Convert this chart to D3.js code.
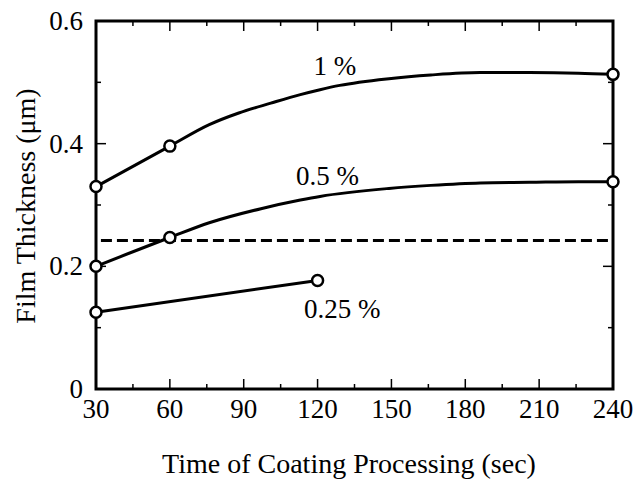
<!DOCTYPE html>
<html>
<head>
<meta charset="utf-8">
<script src="https://cdn.jsdelivr.net/npm/d3@7"></script>
<style>
  body { margin: 0; background: #fff; }
  text { font-family: "Liberation Serif", "Times New Roman", serif; fill: #000; }
</style>
</head>
<body>
<svg id="chart"></svg>
<script>
// Measured points (open circles)
const times1 = [30, 60, 240];
const vals1 = [0.33, 0.396, 0.513];
const times05 = [30, 60, 240];
const vals05 = [0.20, 0.247, 0.338];
const times025 = [30, 120];
const vals025 = [0.125, 0.177];

// Fitted curves as drawn in the figure
const trendTimes1 = [30, 60, 76, 88, 101, 113, 121, 129, 149, 166, 186, 206, 226, 240];
const trendVals1 = [0.33, 0.396, 0.431, 0.450, 0.466, 0.480, 0.488, 0.495, 0.506, 0.512, 0.516, 0.516, 0.515, 0.513];
const trendTimes05 = [30, 60, 76, 97, 113, 121, 149, 166, 186, 206, 226, 240];
const trendVals05 = [0.20, 0.247, 0.271, 0.294, 0.308, 0.314, 0.327, 0.332, 0.336, 0.337, 0.338, 0.338];

const thresholdValue = 0.242;

const xTicks = [30, 60, 90, 120, 150, 180, 210, 240];
const yTicks = [0, 0.2, 0.4, 0.6];
const yTickLabels = ["0", "0.2", "0.4", "0.6"];

const labels = [
    { text: "1 %", t: 127, v: 0.512 },
    { text: "0.5 %", t: 124, v: 0.333 },
    { text: "0.25 %", t: 130, v: 0.116 }
];

const width = 636, height = 481;
const margin = { top: 21, right: 23, bottom: 92, left: 96 };
const innerW = width - margin.left - margin.right;
const innerH = height - margin.top - margin.bottom;

const svg = d3.select("#chart")
    .attr("width", width)
    .attr("height", height);

const g = svg.append("g")
    .attr("transform", `translate(${margin.left},${margin.top})`);

const x = d3.scaleLinear().domain([30, 240]).range([0, innerW]);
const y = d3.scaleLinear().domain([0, 0.6]).range([innerH, 0]);

// Minor and major ticks, pointing inward on all four sides
const xMinor = d3.range(45, 240, 30);
const yMinor = [0.1, 0.3, 0.5];

const tickG = g.append("g").attr("stroke", "#000").attr("stroke-width", 1.5);
xTicks.forEach(t => {
    tickG.append("line").attr("x1", x(t)).attr("x2", x(t)).attr("y1", innerH).attr("y2", innerH - 10);
    tickG.append("line").attr("x1", x(t)).attr("x2", x(t)).attr("y1", 0).attr("y2", 10);
});
xMinor.forEach(t => {
    tickG.append("line").attr("x1", x(t)).attr("x2", x(t)).attr("y1", innerH).attr("y2", innerH - 5);
    tickG.append("line").attr("x1", x(t)).attr("x2", x(t)).attr("y1", 0).attr("y2", 5);
});
yTicks.forEach(v => {
    tickG.append("line").attr("x1", 0).attr("x2", 10).attr("y1", y(v)).attr("y2", y(v));
    tickG.append("line").attr("x1", innerW).attr("x2", innerW - 10).attr("y1", y(v)).attr("y2", y(v));
});
yMinor.forEach(v => {
    tickG.append("line").attr("x1", 0).attr("x2", 5).attr("y1", y(v)).attr("y2", y(v));
    tickG.append("line").attr("x1", innerW).attr("x2", innerW - 5).attr("y1", y(v)).attr("y2", y(v));
});

// Frame
g.append("rect")
    .attr("width", innerW)
    .attr("height", innerH)
    .attr("fill", "none")
    .attr("stroke", "#000")
    .attr("stroke-width", 3);

// Tick labels
g.selectAll(".xlab")
    .data(xTicks)
    .enter()
    .append("text")
    .attr("x", d => x(d))
    .attr("y", innerH + 29)
    .attr("text-anchor", "middle")
    .style("font-size", "27px")
    .text(d => d);

g.selectAll(".ylab")
    .data(yTicks)
    .enter()
    .append("text")
    .attr("x", -13)
    .attr("y", d => y(d) + 9)
    .attr("text-anchor", "end")
    .style("font-size", "27px")
    .text((d, i) => yTickLabels[i]);

// Axis titles
svg.append("text")
    .attr("x", 349)
    .attr("y", 473)
    .attr("text-anchor", "middle")
    .style("font-size", "28px")
    .text("Time of Coating Processing (sec)");

svg.append("text")
    .attr("transform", "translate(35,206) rotate(-90)")
    .attr("text-anchor", "middle")
    .style("font-size", "28px")
    .text("Film Thickness (\u03bcm)");

// Dashed reference line
g.append("line")
    .attr("x1", x(32))
    .attr("x2", x(240))
    .attr("y1", y(thresholdValue))
    .attr("y2", y(thresholdValue))
    .attr("stroke", "#000")
    .attr("stroke-width", 3)
    .attr("stroke-dasharray", "11,5");

// Curves
const line = d3.line()
    .x(d => x(d[0]))
    .y(d => y(d[1]))
    .curve(d3.curveMonotoneX);

const curves = [
    d3.zip(trendTimes1, trendVals1),
    d3.zip(trendTimes05, trendVals05),
    d3.zip(times025, vals025)
];

g.selectAll(".curve")
    .data(curves)
    .enter()
    .append("path")
    .attr("d", line)
    .attr("fill", "none")
    .attr("stroke", "#000")
    .attr("stroke-width", 3);

// Markers
const points = []
    .concat(d3.zip(times1, vals1))
    .concat(d3.zip(times05, vals05))
    .concat(d3.zip(times025, vals025));

g.selectAll(".pt")
    .data(points)
    .enter()
    .append("circle")
    .attr("cx", d => x(d[0]))
    .attr("cy", d => y(d[1]))
    .attr("r", 5.5)
    .attr("fill", "#fff")
    .attr("stroke", "#000")
    .attr("stroke-width", 2.5);

// Series labels
g.selectAll(".slab")
    .data(labels)
    .enter()
    .append("text")
    .attr("x", d => x(d.t))
    .attr("y", d => y(d.v))
    .attr("text-anchor", "middle")
    .style("font-size", "27px")
    .text(d => d.text);
</script>
</body>
</html>
